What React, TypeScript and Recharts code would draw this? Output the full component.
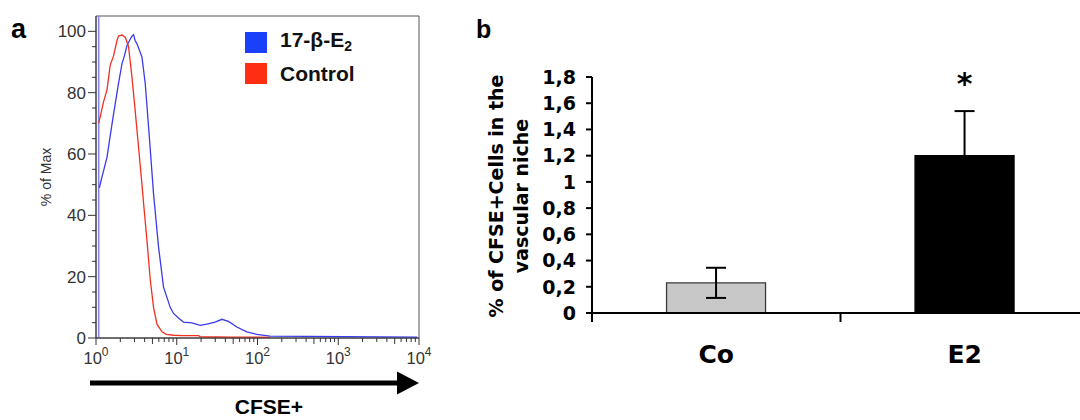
import React from "react";
import {
  LineChart,
  Line,
  XAxis,
  YAxis,
  ReferenceArea,
  ReferenceLine,
  BarChart,
  Bar,
  Cell,
  ErrorBar,
  LabelList,
} from "recharts";

// ---- panel a: CFSE histogram ----
const CONTROL_X = [1.08, 1.24, 1.37, 1.5, 1.65, 1.82, 1.9, 2.1, 2.31, 2.53, 2.79, 3.06, 3.37, 3.71, 3.88, 4.27, 4.7, 5.16, 5.69, 6.56, 7.43, 9.12, 12, 18.6, 19.5, 50, 100, 143];
const CONTROL_Y = [70, 77, 81, 89, 92, 97, 98.5, 98.8, 98, 95, 85, 74, 62, 50, 44, 32, 19, 10, 4.5, 2, 1.2, 0.9, 0.8, 0.8, 0.4, 0.3, 0.3, 0.2];

const E2_X = [1.1, 1.2, 1.37, 1.5, 1.65, 1.9, 2.1, 2.25, 2.42, 2.6, 2.79, 2.92, 3.05, 3.21, 3.71, 4.07, 4.48, 5.16, 5.95, 6.86, 8.3, 9.12, 10.5, 12.1, 15.4, 19.5, 23.6, 29.9, 36.2, 43.7, 55.5, 73.8, 98, 143, 9500];
const E2_Y = [49, 53, 59, 66, 73, 83, 89.5, 92, 95.4, 97, 98.4, 98.9, 97, 96, 91.6, 83, 68.8, 47, 29.7, 16.6, 10, 8, 6.5, 5.2, 4.9, 4.1, 4.5, 5.2, 6.1, 5.4, 3.6, 2, 1.2, 0.6, 0.3];

const DECADES = [1, 10, 100, 1000, 10000];
const MINOR_STEPS = [2, 3, 4, 5, 6, 7, 8, 9];
const HIST_Y_TICKS = [0, 5, 10, 15, 20, 25, 30, 35, 40, 45, 50, 55, 60, 65, 70, 75, 80, 85, 90, 95, 100];

// ---- panel b: vascular niche bars ----
const GROUPS = ["Co", "E2"];
const PERCENT = [0.23, 1.2];
const PERCENT_ERR = [0.115, 0.34];
const SIGNIF = ["", "*"];
const BAR_Y_TICKS = [0, 0.2, 0.4, 0.6, 0.8, 1, 1.2, 1.4, 1.6, 1.8];

const BLUE = "#3a3aee";
const RED = "#f2301f";
const SANS = "'Liberation Sans', Arial, sans-serif";
const VERD = "'DejaVu Sans', Verdana, sans-serif";

const controlData = CONTROL_X.map((x, i) => ({ x, y: CONTROL_Y[i] }));
const e2Data = E2_X.map((x, i) => ({ x, y: E2_Y[i] }));
const xTicks: number[] = [];
DECADES.forEach((d, i) => {
  xTicks.push(d);
  if (i < DECADES.length - 1) MINOR_STEPS.forEach((m) => xTicks.push(d * m));
});

const barData = GROUPS.map((g, i) => ({
  group: g,
  value: PERCENT[i],
  err: PERCENT_ERR[i],
  sig: SIGNIF[i],
}));

const BAR_PLOT_W = 497;
const BAND = BAR_PLOT_W / GROUPS.length;

function HistXTick({ x, y, payload }: any) {
  const v = payload.value;
  const exp = Math.round(Math.log10(v));
  const major = Math.abs(Math.pow(10, exp) - v) < 1e-6;
  const five = !major && Math.abs(v / Math.pow(10, Math.floor(Math.log10(v))) - 5) < 1e-6;
  const len = major ? 7 : five ? 6 : 4;
  return (
    <g>
      <line x1={x} x2={x} y1={y} y2={y + len} stroke="#333" strokeWidth={1} />
      {major && (
        <text x={x} y={y + 26} textAnchor="middle" fontFamily={SANS} fontSize={16.5} fill="#333">
          10
          <tspan dy={-8} fontSize={12}>
            {exp}
          </tspan>
        </text>
      )}
    </g>
  );
}

function HistYTick({ x, y, payload }: any) {
  const major = payload.value % 20 === 0;
  return (
    <g>
      <line x1={x} x2={x - (major ? 8 : 4)} y1={y} y2={y} stroke="#333" strokeWidth={1} />
      {major && (
        <text x={x - 10} y={y} dy={6} textAnchor="end" fontFamily={SANS} fontSize={17} fill="#333">
          {payload.value}
        </text>
      )}
    </g>
  );
}

function HistLegend() {
  const row = (color: string, label: React.ReactNode) => (
    <div style={{ display: "flex", alignItems: "center", height: 31 }}>
      <span style={{ width: 22, height: 21, background: color, display: "inline-block", marginRight: 13 }} />
      <span style={{ fontFamily: SANS, fontWeight: "bold", fontSize: 21, color: "#111", lineHeight: "21px" }}>
        {label}
      </span>
    </div>
  );
  return (
    <div style={{ position: "absolute", left: 245, top: 27 }}>
      {row("#1a40fa", <>17-β-E<sub style={{ fontSize: 14, verticalAlign: -4 }}>2</sub></>)}
      {row("#ff2d12", "Control")}
    </div>
  );
}

function GroupTick({ x, y, payload }: any) {
  return (
    <g>
      <line x1={x - BAND / 2} x2={x - BAND / 2} y1={y} y2={y + 9} stroke="#000" strokeWidth={2} />
      <text x={x} y={y + 50} textAnchor="middle" fontFamily={VERD} fontWeight="bold" fontSize={25} fill="#000">
        {payload.value}
      </text>
    </g>
  );
}

function SigLabel(props: any) {
  const { x, y, width, value } = props;
  if (!value) return null;
  return (
    <text x={x + width / 2} y={y - 62} textAnchor="middle" fontFamily={VERD} fontWeight="bold" fontSize={30} fill="#000">
      {value}
    </text>
  );
}

function BarYTitle() {
  return (
    <g fontFamily={VERD} fontWeight="bold" fontSize={19} fill="#000">
      <text transform="translate(33,196) rotate(-90)" textAnchor="middle">
        % of CFSE+Cells in the
      </text>
      <text transform="translate(58,196) rotate(-90)" textAnchor="middle">
        vascular niche
      </text>
    </g>
  );
}

export default function App() {
  return (
    <div style={{ position: "absolute", left: 0, top: 0, width: 1080, height: 420, overflow: "hidden", background: "#fff" }}>
      <div style={{ position: "absolute", left: 0, top: 0 }}>
        <LineChart width={440} height={420} margin={{ top: 16, right: 21, left: 0, bottom: 52 }}>
          <ReferenceArea x1={1} x2={10000} y1={0} y2={105} fill="none" stroke="#555" strokeWidth={1} ifOverflow="visible" />
          <XAxis
            dataKey="x"
            type="number"
            scale="log"
            domain={[1, 10000]}
            allowDataOverflow
            ticks={xTicks}
            interval={0}
            tickSize={0}
            tickMargin={0}
            tick={<HistXTick />}
            axisLine={{ stroke: "#333" }}
            height={30}
          />
          <YAxis
            type="number"
            domain={[0, 105]}
            ticks={HIST_Y_TICKS}
            interval={0}
            tickSize={0}
            tickMargin={0}
            tick={<HistYTick />}
            axisLine={{ stroke: "#333" }}
            width={96}
            label={{
              value: "% of Max",
              angle: -90,
              position: "insideLeft",
              offset: 0,
              style: { fontFamily: SANS, fontSize: 14, fill: "#333", textAnchor: "middle" },
              dx: 46,
            }}
          />
          <ReferenceLine x={1.08} stroke="#8484ec" strokeWidth={1.6} />
          <Line data={e2Data} dataKey="y" type="linear" stroke={BLUE} strokeWidth={1.3} dot={false} isAnimationActive={false} />
          <Line data={controlData} dataKey="y" type="linear" stroke={RED} strokeWidth={1.3} dot={false} isAnimationActive={false} />
        </LineChart>
      </div>

      <HistLegend />

      <svg width={440} height={420} style={{ position: "absolute", left: 0, top: 0, pointerEvents: "none" }}>
        <text x={11} y={38} fontFamily={SANS} fontWeight="bold" fontSize={27} fill="#000">
          a
        </text>
        <line x1={90} x2={399} y1={383} y2={383} stroke="#000" strokeWidth={5} />
        <polygon points="397,371.5 419,383 397,394.5" fill="#000" />
        <text x={269} y={414} textAnchor="middle" fontFamily={SANS} fontWeight="bold" fontSize={21} fill="#000">
          CFSE+
        </text>
      </svg>

      <div style={{ position: "absolute", left: 470, top: 0 }}>
        <BarChart
          width={619}
          height={420}
          data={barData}
          margin={{ top: 77, right: 0, left: 0, bottom: 77 }}
          barCategoryGap="30%"
        >
          <XAxis
            dataKey="group"
            tickSize={0}
            tickMargin={0}
            tick={<GroupTick />}
            axisLine={{ stroke: "#000", strokeWidth: 2 }}
            height={30}
          />
          <YAxis
            type="number"
            domain={[0, 1.8]}
            ticks={BAR_Y_TICKS}
            interval={0}
            tickSize={6}
            tickMargin={10}
            tickFormatter={(v: number) => String(v).replace(".", ",")}
            tick={{ fontFamily: VERD, fontWeight: "bold", fontSize: 19, fill: "#000" }}
            tickLine={{ stroke: "#000", strokeWidth: 2 }}
            axisLine={{ stroke: "#000", strokeWidth: 2 }}
            width={122}
            label={{ content: <BarYTitle /> }}
          />
          <Bar dataKey="value" isAnimationActive={false}>
            {barData.map((d, i) => (
              <Cell key={d.group} fill={i === 0 ? "#c8c8c8" : "#000"} stroke={i === 0 ? "#3a3a3a" : "#000"} strokeWidth={1.3} />
            ))}
            <ErrorBar dataKey="err" width={10} stroke="#000" strokeWidth={2} direction="y" />
            <LabelList dataKey="sig" content={<SigLabel />} />
          </Bar>
        </BarChart>
      </div>

      <svg width={40} height={44} style={{ position: "absolute", left: 470, top: 0 }}>
        <text x={6} y={38} fontFamily={SANS} fontWeight="bold" fontSize={25} fill="#000">
          b
        </text>
      </svg>
    </div>
  );
}
